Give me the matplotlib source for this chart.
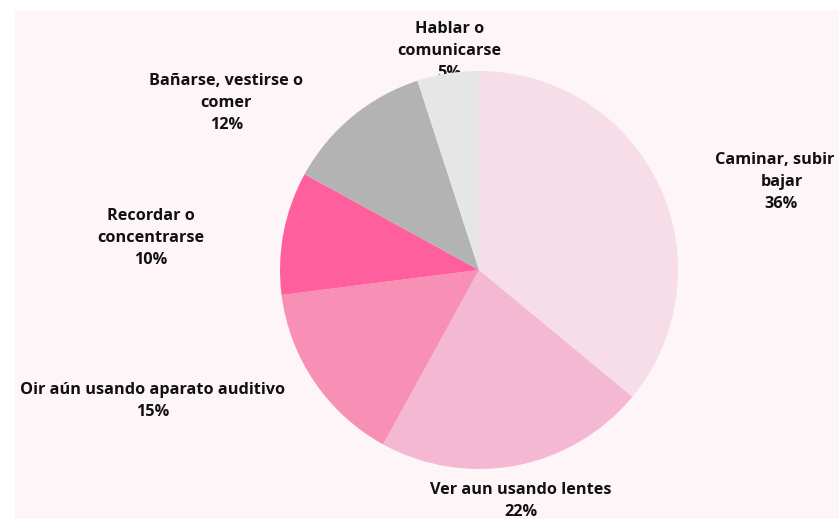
import matplotlib
matplotlib.use('Agg')
import matplotlib.pyplot as plt
from matplotlib.patches import Rectangle

categories = ['Caminar, subir o\nbajar', 'Ver aun usando lentes', 'Oir aún usando aparato auditivo',
              'Recordar o\nconcentrarse', 'Bañarse, vestirse o\ncomer', 'Hablar o\ncomunicarse']
values = [36, 22, 15, 10, 12, 5]
colors = ['#f7dde8', '#f5b8d3', '#f890b6', '#ff5f9c', '#b3b3b3', '#e6e6e6']
# label block centres, in pie radius units
label_pos = [(1.52, 0.44), (0.21, -1.16), (-1.64, -0.66), (-1.65, 0.16), (-1.27, 0.84), (-0.15, 1.10)]

plt.rcParams['font.family'] = ['Open Sans', 'DejaVu Sans']

W, H = 839, 519
fig = plt.figure(figsize=(W / 100, H / 100), dpi=100)
fig.patch.set_facecolor('white')
fig.patches.append(Rectangle((15 / W, -0.01), 1, 1.01 - 10 / H, transform=fig.transFigure,
                             facecolor='#fdf5f8', edgecolor='none', zorder=-5))

ax = fig.add_axes([0, 0, 1, 1], zorder=2)
ax.set_facecolor('none')
wedges, _ = ax.pie(values, colors=colors, startangle=90, counterclock=False,
                   wedgeprops=dict(linewidth=0))
for w in wedges:
    w.set_zorder(3)

# the right-hand label runs off the edge, as in the original
for cat, val, (x, y) in zip(categories, values, label_pos):
    ax.text(x, y, f'{cat}\n{val}%', ha='center', va='center', fontsize=11.7,
            fontweight='bold', color='#111111', linespacing=1.5, zorder=1)

cx, cy, r = 479, 270, 199
ax.set_aspect('auto')
ax.set_xlim(-cx / r, (W - cx) / r)
ax.set_ylim(-(H - cy) / r, cy / r)
ax.axis('off')

fig.savefig('out.png', dpi=100)
